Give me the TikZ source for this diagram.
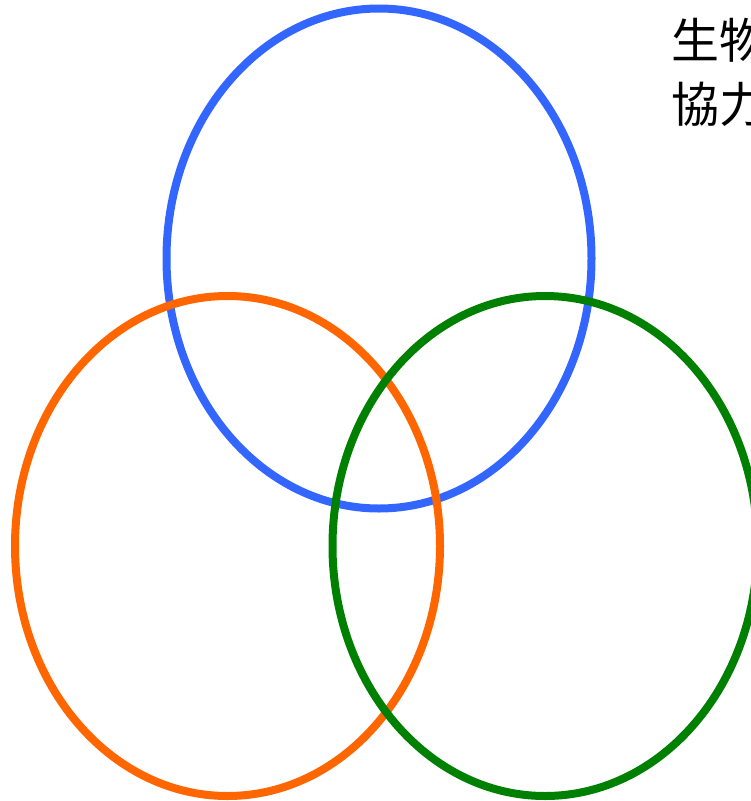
\documentclass[tikz,border=0pt]{standalone}
\usepackage{fontspec}
\newfontfamily\cjk{Noto Sans CJK JP}
\usetikzlibrary{shapes.geometric}
\definecolor{ringblue}{HTML}{3366FF}
\definecolor{ringorange}{HTML}{FF6600}
\definecolor{ringgreen}{HTML}{008000}
\begin{document}
\begin{tikzpicture}[x=1pt, y=-1pt,
    ring/.style={draw, ellipse, line width=8pt, minimum width=425pt, minimum height=500pt, inner sep=0pt}]

    \useasboundingbox (0,0) rectangle (751,801);
    \clip (0,0) rectangle (751,801);

    \node[ring, draw=ringblue] (blue) at (379, 258.5) {};
    \node[ring, draw=ringorange] (orange) at (227.5, 546) {};
    \node[ring, draw=ringgreen] (green) at (545, 546) {};

    % base of a two-line node is the last line's baseline
    \node[anchor=base west, inner sep=0pt, align=left, font=\cjk\fontsize{48}{64}\selectfont] (label) at (671, 122) {生物\\協力};

  \end{tikzpicture}
\end{document}
